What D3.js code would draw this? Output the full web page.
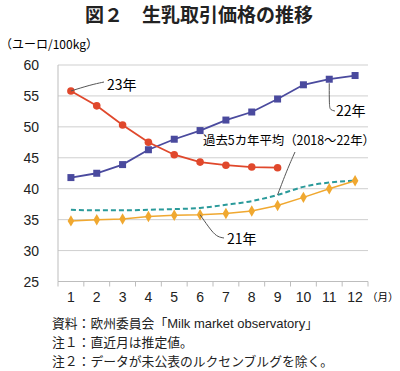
<!DOCTYPE html>
<html>
<head>
<meta charset="utf-8">
<script src="https://cdn.jsdelivr.net/npm/d3@7"></script>
<style>
  body { margin: 0; background: #fff; }
  svg { display: block; font-family: "Noto Sans CJK JP", "Noto Sans", sans-serif; }
  .grid line { stroke: #cfcfcf; stroke-width: 1; }
  .num { font-family: "Liberation Sans", Arial, sans-serif; }
</style>
</head>
<body>
<svg id="chart" width="400" height="371"></svg>
<script>
const width = 400;
const height = 371;

// data
const months = [1, 2, 3, 4, 5, 6, 7, 8, 9, 10, 11, 12];
const yTicks = [25, 30, 35, 40, 45, 50, 55, 60];
const y2023 = [55.8, 53.4, 50.3, 47.5, 45.5, 44.3, 43.8, 43.5, 43.4];
const y2022 = [41.8, 42.5, 43.9, 46.3, 48.0, 49.4, 51.1, 52.4, 54.5, 56.8, 57.7, 58.3];
const y2021 = [34.8, 35.0, 35.1, 35.5, 35.7, 35.8, 36.0, 36.4, 37.3, 38.6, 40.0, 41.3];
const yAvg = [36.6, 36.5, 36.5, 36.6, 36.7, 36.9, 37.4, 38.0, 39.0, 40.3, 41.0, 41.3];
const notes = [
    ["資料：欧州委員会「", "Milk market observatory", "」"],
    ["注１：直近月は推定値。"],
    ["注２：データが未公表のルクセンブルグを除く。"]
];

const svg = d3.select("#chart");

const x = d3.scalePoint().domain(months).range([58, 368]).padding(0.5);
const xBand = d3.scaleBand().domain(months).range([58, 368]);
const y = d3.scaleLinear().domain([25, 60]).range([281.5, 65]);

// title
svg.append("text")
    .attr("x", 199).attr("y", 22)
    .attr("text-anchor", "middle")
    .style("font-size", "19px")
    .style("font-weight", "700")
    .attr("fill", "#222")
    .text("図２　生乳取引価格の推移");

svg.append("text")
    .attr("x", 0).attr("y", 49)
    .style("font-size", "12px")
    .text("（ユーロ/100kg）");

// grid
svg.append("g").attr("class", "grid")
    .selectAll("line")
    .data(yTicks.filter(d => d > 25))
    .enter().append("line")
    .attr("x1", 58).attr("x2", 368)
    .attr("y1", d => y(d)).attr("y2", d => y(d));

// axes
svg.append("line")
    .attr("x1", 58).attr("x2", 58)
    .attr("y1", y(60)).attr("y2", y(25))
    .attr("stroke", "#bdbdbd");
svg.append("line")
    .attr("x1", 58).attr("x2", 368)
    .attr("y1", y(25)).attr("y2", y(25))
    .attr("stroke", "#bdbdbd");

svg.append("g")
    .selectAll("line")
    .data(months.concat([13]))
    .enter().append("line")
    .attr("x1", d => d <= 12 ? xBand(d) : 368)
    .attr("x2", d => d <= 12 ? xBand(d) : 368)
    .attr("y1", y(25)).attr("y2", y(25) + 5)
    .attr("stroke", "#bdbdbd");

svg.append("g")
    .selectAll("text")
    .data(yTicks)
    .enter().append("text")
    .attr("class", "num")
    .attr("x", 39)
    .attr("y", d => y(d) + 5)
    .attr("text-anchor", "end")
    .style("font-size", "14px")
    .attr("fill", "#222")
    .text(d => d);

svg.append("g")
    .selectAll("text")
    .data(months)
    .enter().append("text")
    .attr("class", "num")
    .attr("x", d => x(d))
    .attr("y", 302)
    .attr("text-anchor", "middle")
    .style("font-size", "14px")
    .attr("fill", "#222")
    .text(d => d);

svg.append("text")
    .attr("x", 367).attr("y", 301)
    .style("font-size", "10.5px")
    .text("（月）");

// lines
const line = d3.line()
    .x((d, i) => x(months[i]))
    .y(d => y(d));

svg.append("path")
    .datum(yAvg)
    .attr("d", line.curve(d3.curveMonotoneX))
    .attr("fill", "none")
    .attr("stroke", "#2a9a9a")
    .attr("stroke-width", 2)
    .attr("stroke-dasharray", "5,3");
line.curve(d3.curveLinear);

svg.append("path")
    .datum(y2021)
    .attr("d", line)
    .attr("fill", "none")
    .attr("stroke", "#f0a830")
    .attr("stroke-width", 1.5);

svg.append("g")
    .selectAll("path")
    .data(y2021)
    .enter().append("path")
    .attr("d", d3.symbol().type(d3.symbolDiamond).size(38))
    .attr("transform", (d, i) => "translate(" + x(months[i]) + "," + y(d) + ")")
    .attr("fill", "#f0a830");

svg.append("path")
    .datum(y2022)
    .attr("d", line)
    .attr("fill", "none")
    .attr("stroke", "#4a4a9e")
    .attr("stroke-width", 1.8);

svg.append("g")
    .selectAll("rect")
    .data(y2022)
    .enter().append("rect")
    .attr("x", (d, i) => x(months[i]) - 3.5)
    .attr("y", d => y(d) - 3.5)
    .attr("width", 7).attr("height", 7)
    .attr("fill", "#4a4a9e");

svg.append("path")
    .datum(y2023)
    .attr("d", line)
    .attr("fill", "none")
    .attr("stroke", "#e0482c")
    .attr("stroke-width", 1.8);

svg.append("g")
    .selectAll("circle")
    .data(y2023)
    .enter().append("circle")
    .attr("cx", (d, i) => x(months[i]))
    .attr("cy", d => y(d))
    .attr("r", 3.8)
    .attr("fill", "#e0482c");

// annotations
function leader(points) {
    svg.append("path")
        .attr("d", d3.line().curve(d3.curveBasis)(points))
        .attr("fill", "none")
        .attr("stroke", "#555")
        .attr("stroke-width", 1);
}

leader([[x(1), y(y2023[0])], [90, 85], [104, 82]]);
svg.append("text").attr("x", 107).attr("y", 90)
    .style("font-size", "14px").text("23年");

leader([[x(11), y(y2022[10]) + 4], [x(11), 106], [x(11) + 1, 110], [335, 111]]);
svg.append("text").attr("x", 336).attr("y", 116)
    .style("font-size", "14px").text("22年");

leader([[x(9), y(yAvg[8])], [287, 170], [295, 152]]);
svg.append("text").attr("x", 203).attr("y", 145)
    .attr("textLength", 172)
    .attr("lengthAdjust", "spacingAndGlyphs")
    .style("font-size", "12.5px").text("過去5カ年平均（2018～22年）");

leader([[x(6), y(y2021[5])], [212, 232], [218, 237], [224, 238]]);
svg.append("text").attr("x", 227).attr("y", 244)
    .style("font-size", "14px").text("21年");

// notes
const noteText = svg.append("g")
    .selectAll("text")
    .data(notes)
    .enter().append("text")
    .attr("x", 52)
    .attr("y", (d, i) => 328 + i * 19)
    .style("font-size", "12.8px")
    .attr("fill", "#222");

noteText.selectAll("tspan")
    .data(d => d)
    .enter().append("tspan")
    .style("font-family", (d, i) => i === 1 ? "'Liberation Sans', Arial, sans-serif" : null)
    .style("font-size", (d, i) => i === 1 ? "13px" : null)
    .text(d => d);
</script>
</body>
</html>
